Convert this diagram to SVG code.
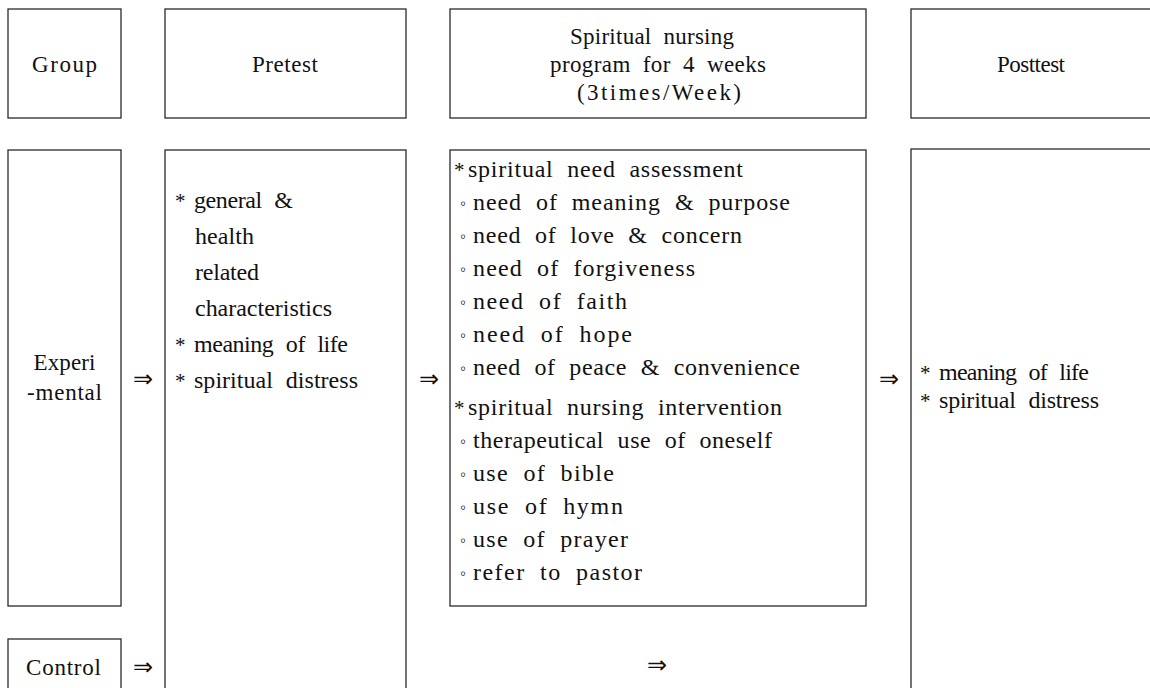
<svg xmlns="http://www.w3.org/2000/svg" width="1150" height="688" viewBox="0 0 1150 688">
<style>
.box{fill:none;stroke:#2a2a2a;stroke-width:1.3}
.t{font-family:"Liberation Serif","Times New Roman",serif;font-size:24px;word-spacing:7px;fill:#111}
.h{font-family:"Liberation Serif","Times New Roman",serif;font-size:23px;word-spacing:6px;fill:#111;text-anchor:middle}
.s{font-family:"Liberation Serif","Times New Roman",serif;font-size:21px;fill:#111}
.b{font-family:"Liberation Serif","Times New Roman",serif;font-size:17px;fill:#111}
.arr{font-family:"DejaVu Sans",sans-serif;font-size:24px;fill:#111;text-anchor:middle}
</style>
<rect width="1150" height="688" fill="#fff"/>
<g id="hdr-group"><rect class="box" x="8" y="9" width="113" height="109"/><text class="h" x="64.5" y="72" textLength="65">Group</text></g>
<g id="hdr-pretest"><rect class="box" x="165" y="9" width="241" height="109"/><text class="h" x="285" y="72" textLength="66">Pretest</text></g>
<g id="hdr-program"><rect class="box" x="450" y="9" width="416" height="109"/>
<text class="h" x="652" y="44" textLength="164">Spiritual nursing</text>
<text class="h" x="658" y="72" textLength="216">program for 4 weeks</text>
<text class="h" x="659" y="100" textLength="164">(3times/Week)</text></g>
<g id="hdr-posttest"><rect class="box" x="911" y="9" width="260" height="109"/><text class="h" x="1031" y="72" textLength="68">Posttest</text></g>

<g id="experimental"><rect class="box" x="8" y="150" width="113" height="456"/>
<text class="h" x="64.5" y="370" textLength="62">Experi</text>
<text class="h" x="64.5" y="400" textLength="75">-mental</text></g>
<g id="control"><rect class="box" x="8" y="639" width="113" height="80"/><text class="h" x="63.5" y="675" textLength="75">Control</text></g>

<g id="pretest"><rect class="box" x="165" y="150" width="241" height="570"/>
<text class="s" x="175" y="208">*</text><text class="t" x="194" y="208" textLength="99">general &amp;</text>
<text class="t" x="195" y="244" textLength="59">health</text>
<text class="t" x="195" y="280" textLength="64">related</text>
<text class="t" x="195" y="316" textLength="137">characteristics</text>
<text class="s" x="175" y="352">*</text><text class="t" x="194" y="352" textLength="154">meaning of life</text>
<text class="s" x="175" y="388">*</text><text class="t" x="194" y="388" textLength="164">spiritual distress</text></g>

<g id="program"><rect class="box" x="450" y="150" width="416" height="456"/>
<text class="s" x="454" y="177">*</text><text class="t" x="468" y="177" textLength="275">spiritual need assessment</text>
<text class="b" x="460" y="209">◦</text><text class="t" x="473" y="210" textLength="317">need of meaning &amp; purpose</text>
<text class="b" x="460" y="242">◦</text><text class="t" x="473" y="243" textLength="269">need of love &amp; concern</text>
<text class="b" x="460" y="275">◦</text><text class="t" x="473" y="276" textLength="222">need of forgiveness</text>
<text class="b" x="460" y="308">◦</text><text class="t" x="473" y="309" textLength="154">need of faith</text>
<text class="b" x="460" y="341">◦</text><text class="t" x="473" y="342" textLength="159">need of hope</text>
<text class="b" x="460" y="374">◦</text><text class="t" x="473" y="375" textLength="327">need of peace &amp; convenience</text>
<text class="s" x="454" y="415">*</text><text class="t" x="468" y="415" textLength="314">spiritual nursing intervention</text>
<text class="b" x="460" y="447">◦</text><text class="t" x="473" y="448" textLength="299">therapeutical use of oneself</text>
<text class="b" x="460" y="480">◦</text><text class="t" x="473" y="481" textLength="141">use of bible</text>
<text class="b" x="460" y="513">◦</text><text class="t" x="473" y="514" textLength="150">use of hymn</text>
<text class="b" x="460" y="546">◦</text><text class="t" x="473" y="547" textLength="155">use of prayer</text>
<text class="b" x="460" y="579">◦</text><text class="t" x="473" y="580" textLength="169">refer to pastor</text></g>

<g id="posttest"><rect class="box" x="911" y="149" width="260" height="570"/>
<text class="s" x="920" y="380">*</text><text class="t" x="939" y="380" textLength="150">meaning of life</text>
<text class="s" x="920" y="408">*</text><text class="t" x="939" y="408" textLength="160">spiritual distress</text></g>

<g id="connectors">
<text class="arr" x="143" y="387">⇒</text>
<text class="arr" x="429" y="387">⇒</text>
<text class="arr" x="889" y="387">⇒</text>
<text class="arr" x="143" y="675">⇒</text>
<text class="arr" x="657" y="673">⇒</text>
</g>
</svg>
